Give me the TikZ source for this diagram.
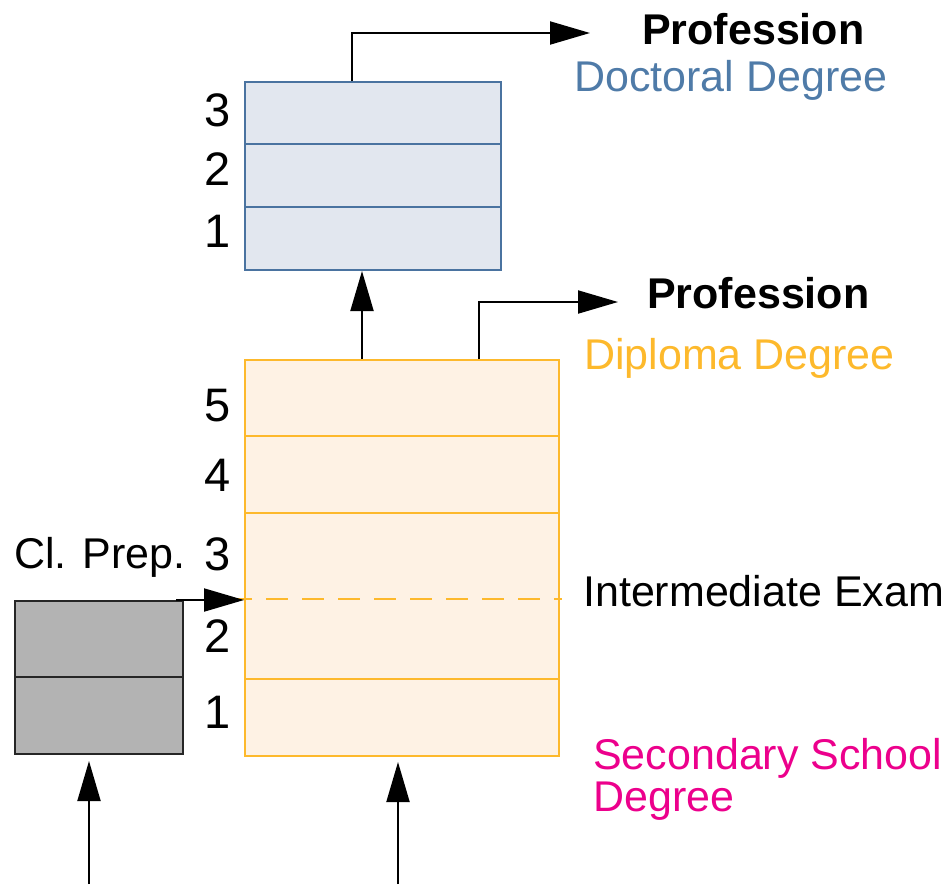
\documentclass[tikz,border=0pt]{standalone}
\usepackage{fontspec}
\setmainfont{Liberation Sans}
\usetikzlibrary{arrows.meta}
\definecolor{docfill}{HTML}{E2E7EF}
\definecolor{docline}{HTML}{4A73A0}
\definecolor{doctext}{HTML}{4F7BA8}
\definecolor{dipfill}{HTML}{FEF2E4}
\definecolor{dipline}{HTML}{FDB92C}
\definecolor{preffill}{HTML}{B3B3B3}
\definecolor{secmag}{HTML}{EC008C}
\tikzset{
  arr/.style={line width=2pt,-{Triangle[length=40pt,width=23pt]}},
  box/.style={line width=2pt,inner sep=0pt,anchor=north west},
  lbl/.style={inner sep=0pt,anchor=west,font=\fontsize{43}{50}\selectfont},
  num/.style={inner sep=0pt,anchor=center,font=\fontsize{47}{54}\selectfont},
  sep/.style={line width=2pt}
}
\begin{document}
\begin{tikzpicture}[x=1pt,y=-1pt]
\useasboundingbox (0,0) rectangle (949,884);
% Doctoral box
\node[box,draw=docline,fill=docfill,minimum width=256pt,minimum height=188pt] (doc) at (244,81) {};
\draw[sep,docline] (244,144) -- (500,144);
\draw[sep,docline] (244,207) -- (500,207);
\node[num] (d3) at (218,110) {3};
\node[num] (d2) at (218,169) {2};
\node[num] (d1) at (218,231) {1};
% Diploma box
\node[box,draw=dipline,fill=dipfill,minimum width=314pt,minimum height=396pt] (dip) at (244,359) {};
\draw[sep,dipline] (244,436) -- (558,436);
\draw[sep,dipline] (244,513) -- (558,513);
\draw[sep,dipline] (244,679) -- (558,679);
\draw[sep,dipline,dash pattern=on 22pt off 14pt] (230,599) -- (562,599);
\node[num] (p5) at (218,406) {5};
\node[num] (p4) at (218,475) {4};
\node[num] (p3) at (218,554) {3};
\node[num] (p2) at (218,636) {2};
\node[num] (p1) at (218,712) {1};
% Cl. Prep. box
\node[box,draw=black!85,fill=preffill,minimum width=168pt,minimum height=153pt] (prep) at (14,600) {};
\draw[sep,black!85] (14,677) -- (182,677);
\node[lbl] (preplbl) at (14,557) {Cl. Prep.};
% labels
\node[lbl,font=\fontsize{43}{50}\selectfont\bfseries] (prof1) at (642,29) {Profession};
\node[lbl,text=doctext] (docl) at (574,80) {Doctoral Degree};
\node[lbl,font=\fontsize{43}{50}\selectfont\bfseries] (prof2) at (647,293) {Profession};
\node[lbl,text=dipline] (dipl) at (584,358) {Diploma Degree};
\node[lbl] (inter) at (583,591) {Intermediate Exam};
\node[lbl,text=secmag,align=left,font=\fontsize{43}{42}\selectfont] (sec) at (593,779) {Secondary School\\Degree};
% connectors
\coordinate (t1) at (590,33);
\coordinate (t2) at (618,302);
\coordinate (c1) at (352,0);
\coordinate (c2) at (479,0);
\coordinate (c3) at (362,0);
\coordinate (s1) at (89,884);
\coordinate (s2) at (398,884);
\coordinate (pe) at (176,600);
\draw[arr] (doc.north west -| c1) |- (t1);
\draw[arr] (dip.north west -| c2) |- (t2);
\draw[arr] (dip.north west -| c3) -- (doc.south west -| c3);
\draw[arr] (pe) -- (pe -| dip.west);
\draw[arr] (s1) -- ([yshift=-6pt]prep.south west -| s1);
\draw[arr] (s2) -- ([yshift=-5pt]dip.south west -| s2);
\end{tikzpicture}
\end{document}
